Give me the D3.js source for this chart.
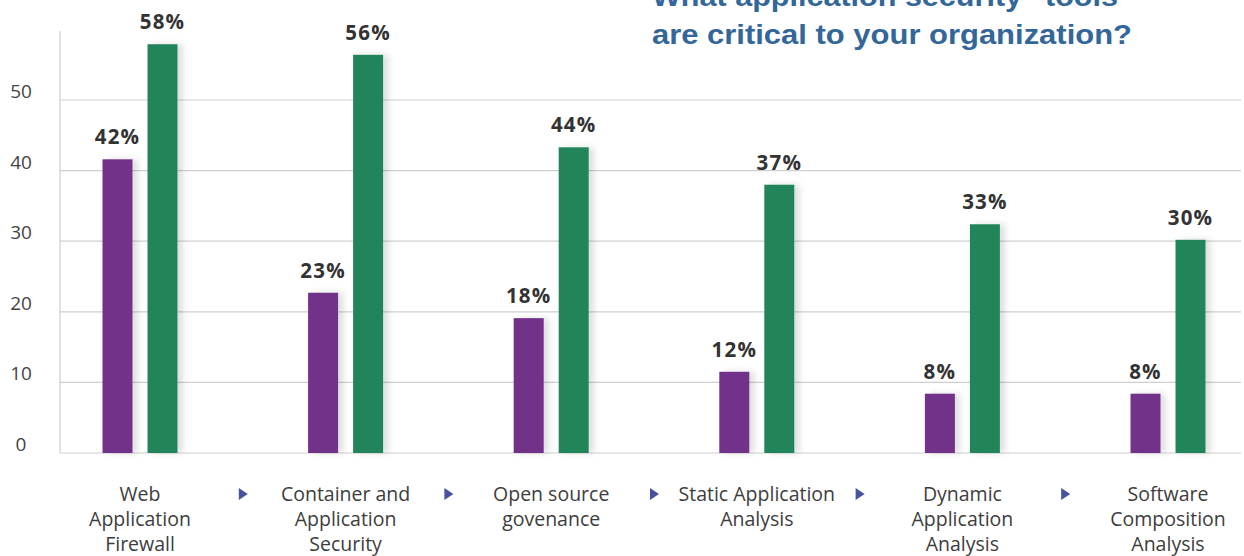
<!DOCTYPE html>
<html>
<head>
<meta charset="utf-8">
<script src="https://cdn.jsdelivr.net/npm/d3@7"></script>
<style>
  html, body { margin: 0; padding: 0; background: #fff; }
  svg { display: block; }
</style>
</head>
<body>
<svg id="chart" width="1244" height="556"></svg>
<script>
// ---- data ----
const categories = [
  "Web Application Firewall",
  "Container and Application Security",
  "Open source govenance",
  "Static Application Analysis",
  "Dynamic Application Analysis",
  "Software Composition Analysis"
];
const categoryLines = [
  ["Web", "Application", "Firewall"],
  ["Container and", "Application", "Security"],
  ["Open source", "govenance"],
  ["Static Application", "Analysis"],
  ["Dynamic", "Application", "Analysis"],
  ["Software", "Composition", "Analysis"]
];
const seriesNames = ["purple", "green"];
// bar heights as drawn in the picture
const purpleValues = [41.6, 22.7, 19.1, 11.5, 8.4, 8.4];
const greenValues  = [57.9, 56.4, 43.3, 38.0, 32.4, 30.2];
// value labels printed above bars
const purpleLabels = ["42%", "23%", "18%", "12%", "8%", "8%"];
const greenLabels  = ["58%", "56%", "44%", "37%", "33%", "30%"];
const yTicks = [0, 10, 20, 30, 40, 50];
const titleLines = ["What application security\" tools", "are critical to your organization?"];

// ---- setup ----
const svg = d3.select("#chart");
const colors = { purple: "#73308a", green: "#23855a" };
const bodyFont = "'Open Sans', Lato, sans-serif";

const y = d3.scaleLinear().domain([0, 50]).range([453, 100]);
const x = d3.scalePoint().domain(categories).range([140, 1168]);
const xInner = d3.scaleBand().domain(seriesNames).range([-37.5, 37.5]).paddingInner(1/3).paddingOuter(0);

const defs = svg.append("defs");
const f = defs.append("filter").attr("id", "shadow").attr("x", "-50%").attr("y", "-10%").attr("width", "200%").attr("height", "120%");
f.append("feDropShadow").attr("dx", 5).attr("dy", 0).attr("stdDeviation", 3)
  .attr("flood-color", "#000").attr("flood-opacity", 0.13);

// gridlines
svg.append("g").selectAll("line").data(yTicks).join("line")
  .attr("x1", 60).attr("x2", 1241)
  .attr("y1", d => y(d)).attr("y2", d => y(d))
  .attr("stroke", "#cfcfcf").attr("stroke-width", 1.2);

// y axis vertical line
svg.append("line")
  .attr("x1", 60).attr("x2", 60)
  .attr("y1", 31).attr("y2", y(0))
  .attr("stroke", "#cfcfcf").attr("stroke-width", 1.2);

// y tick labels
svg.append("g").selectAll("text").data(yTicks).join("text")
  .attr("x", 21).attr("y", d => y(d) - 2)
  .attr("text-anchor", "middle")
  .attr("font-family", bodyFont)
  .attr("font-size", 19)
  .attr("fill", "#444")
  .text(d => d);

// bars
const rows = categories.map((c, i) => ({
  cat: c,
  items: [
    { s: "purple", v: purpleValues[i], label: purpleLabels[i] },
    { s: "green", v: greenValues[i], label: greenLabels[i] }
  ]
}));

const groups = svg.append("g").selectAll("g").data(rows).join("g")
  .attr("transform", d => `translate(${x(d.cat)},0)`);

groups.selectAll("rect").data(d => d.items).join("rect")
  .attr("x", d => xInner(d.s))
  .attr("width", xInner.bandwidth())
  .attr("y", d => y(d.v))
  .attr("height", d => y(0) - y(d.v))
  .attr("fill", d => colors[d.s])
  .attr("filter", "url(#shadow)");

groups.selectAll("text.val").data(d => d.items).join("text")
  .attr("class", "val")
  .attr("x", d => xInner(d.s) + xInner.bandwidth() / 2)
  .attr("y", d => y(d.v) - 15)
  .attr("text-anchor", "middle")
  .attr("font-family", bodyFont)
  .attr("font-weight", "bold")
  .attr("font-size", 20.5)
  .attr("letter-spacing", 1.2)
  .attr("fill", "#333")
  .text(d => d.label);

// category labels
const catG = svg.append("g").selectAll("text").data(categories).join("text")
  .attr("x", d => x(d))
  .attr("y", 501)
  .attr("text-anchor", "middle")
  .attr("font-family", bodyFont)
  .attr("font-size", 19.5)
  .attr("fill", "#3d3d3d");
catG.selectAll("tspan").data((d, i) => categoryLines[i]).join("tspan")
  .attr("x", function() { return d3.select(this.parentNode).attr("x"); })
  .attr("dy", (d, i) => i === 0 ? 0 : 25)
  .text(d => d);

// arrow markers between categories
const mids = categories.slice(0, -1).map((c, i) => (x(c) + x(categories[i + 1])) / 2);
svg.append("g").selectAll("path").data(mids).join("path")
  .attr("transform", d => `translate(${d},494)`)
  .attr("d", "M-4,-6 L5,0 L-4,6 Z")
  .attr("fill", "#48539f");

// title
svg.append("g").selectAll("text").data(titleLines).join("text")
  .attr("x", 652)
  .attr("y", (d, i) => 6 + i * 38)
  .attr("font-family", "'Liberation Sans', Arial, sans-serif")
  .attr("font-weight", "bold")
  .attr("font-size", 27)
  .attr("fill", "#336699")
  .attr("textLength", (d, i) => i === 0 ? 466 : 480)
  .attr("lengthAdjust", "spacingAndGlyphs")
  .text(d => d);
</script>
</body>
</html>
